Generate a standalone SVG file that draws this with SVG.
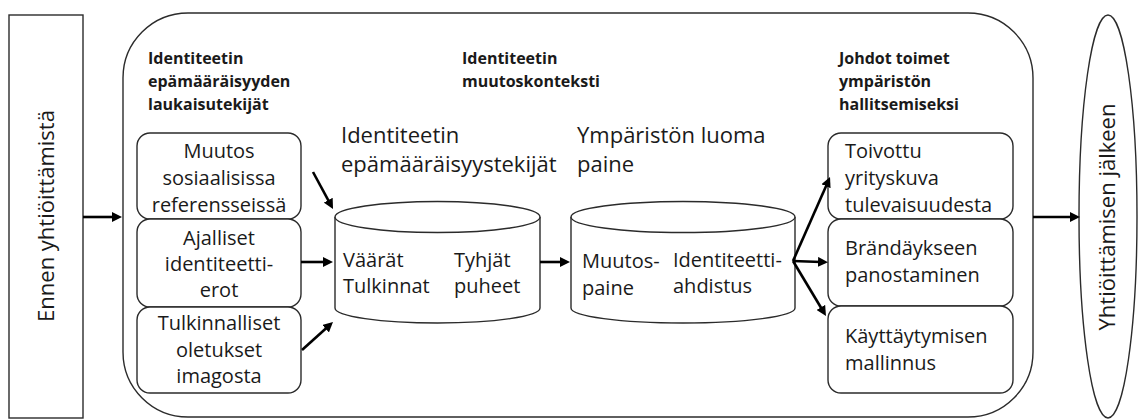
<svg xmlns="http://www.w3.org/2000/svg" width="1139" height="419" viewBox="0 0 1139 419">
  <style>
    .shape { fill: #ffffff; stroke: #2b2b2b; stroke-width: 1.4; }
    .txt { font-family: "Open Sans", "Liberation Sans", sans-serif; font-size: 20px; fill: #1a1a1a; }
    .mid { text-anchor: middle; }
    .title { font-size: 22px; }
    .head { font-size: 16px; font-weight: bold; }
    .arrow { stroke: #000000; stroke-width: 2.6; fill: none; marker-end: url(#head); }
  </style>
  <defs>
    <marker id="head" markerUnits="userSpaceOnUse" markerWidth="10" markerHeight="10" refX="3" refY="5" orient="auto">
      <path d="M0,0 L10,5 L0,10 z" fill="#000000"/>
    </marker>
  </defs>

  <rect width="1139" height="419" fill="#ffffff"/>

  <!-- before merger -->
  <g id="before">
    <rect class="shape" x="9" y="15" width="74" height="403"/>
    <text class="txt title mid" transform="translate(54 216) rotate(-90)">Ennen yhtiöittämistä</text>
  </g>

  <!-- change context frame -->
  <g id="context">
    <rect class="shape" x="123" y="13" width="910" height="404" rx="65" ry="65"/>
    <text class="txt head" x="148" y="64">Identiteetin</text>
    <text class="txt head" x="148" y="87">epämääräisyyden</text>
    <text class="txt head" x="148" y="110">laukaisutekijät</text>
    <text class="txt head" x="462" y="64">Identiteetin</text>
    <text class="txt head" x="462" y="87">muutoskonteksti</text>
    <text class="txt head" x="839" y="64">Johdot toimet</text>
    <text class="txt head" x="839" y="87">ympäristön</text>
    <text class="txt head" x="839" y="110">hallitsemiseksi</text>
  </g>

  <!-- triggers -->
  <g id="trigger-1">
    <rect class="shape" x="137" y="133" width="164" height="86" rx="13"/>
    <text class="txt mid" x="219" y="158">Muutos</text>
    <text class="txt mid" x="219" y="185">sosiaalisissa</text>
    <text class="txt mid" x="219" y="212">referensseissä</text>
  </g>
  <g id="trigger-2">
    <rect class="shape" x="137" y="219" width="164" height="88" rx="13"/>
    <text class="txt mid" x="219" y="245">Ajalliset</text>
    <text class="txt mid" x="219" y="271">identiteetti-</text>
    <text class="txt mid" x="219" y="297">erot</text>
  </g>
  <g id="trigger-3">
    <rect class="shape" x="137" y="307" width="164" height="86" rx="13"/>
    <text class="txt mid" x="219" y="330">Tulkinnalliset</text>
    <text class="txt mid" x="219" y="357">oletukset</text>
    <text class="txt mid" x="219" y="383">imagosta</text>
  </g>

  <!-- ambiguity factors -->
  <g id="ambiguity">
    <text class="txt title" x="341" y="143">Identiteetin</text>
    <text class="txt title" x="341" y="172">epämääräisyystekijät</text>
    <path class="shape" d="M335,217 L335,308 A102.5,15 0 0 0 540,308 L540,217"/>
    <ellipse class="shape" cx="437.5" cy="217" rx="102.5" ry="15.5"/>
    <text class="txt" x="343" y="267">Väärät</text>
    <text class="txt" x="343" y="293">Tulkinnat</text>
    <text class="txt" x="454" y="267">Tyhjät</text>
    <text class="txt" x="454" y="293">puheet</text>
  </g>

  <!-- environmental pressure -->
  <g id="pressure">
    <text class="txt title" x="577" y="143">Ympäristön luoma</text>
    <text class="txt title" x="577" y="172">paine</text>
    <path class="shape" d="M571,217 L571,308 A112,15 0 0 0 795,308 L795,217"/>
    <ellipse class="shape" cx="683" cy="217" rx="112" ry="15.5"/>
    <text class="txt" x="582" y="268">Muutos-</text>
    <text class="txt" x="582" y="295">paine</text>
    <text class="txt" x="673" y="267">Identiteetti-</text>
    <text class="txt" x="673" y="293">ahdistus</text>
  </g>

  <!-- management actions -->
  <g id="action-1">
    <rect class="shape" x="828" y="133" width="185" height="86" rx="13"/>
    <text class="txt" x="845" y="158">Toivottu</text>
    <text class="txt" x="845" y="185">yrityskuva</text>
    <text class="txt" x="845" y="212">tulevaisuudesta</text>
  </g>
  <g id="action-2">
    <rect class="shape" x="828" y="219" width="185" height="87" rx="13"/>
    <text class="txt" x="845" y="255">Brändäykseen</text>
    <text class="txt" x="845" y="282">panostaminen</text>
  </g>
  <g id="action-3">
    <rect class="shape" x="828" y="306" width="185" height="87" rx="13"/>
    <text class="txt" x="845" y="343">Käyttäytymisen</text>
    <text class="txt" x="845" y="370">mallinnus</text>
  </g>

  <!-- after merger -->
  <g id="after">
    <ellipse class="shape" cx="1108" cy="216.5" rx="29" ry="201.5"/>
    <text class="txt title mid" transform="translate(1115 217) rotate(-90)">Yhtiöittämisen jälkeen</text>
  </g>

  <!-- connectors -->
  <g id="connectors">
    <line class="arrow" x1="83" y1="217" x2="115" y2="217"/>
    <line class="arrow" x1="1033" y1="217" x2="1073" y2="217"/>
    <line class="arrow" x1="313" y1="172" x2="329.7" y2="202.8"/>
    <line class="arrow" x1="301" y1="262" x2="326" y2="262"/>
    <line class="arrow" x1="302" y1="350" x2="327.8" y2="326.7"/>
    <line class="arrow" x1="540" y1="262" x2="563" y2="262"/>
    <line class="arrow" x1="793" y1="261" x2="827.2" y2="183.4"/>
    <line class="arrow" x1="793" y1="261" x2="821" y2="262"/>
    <line class="arrow" x1="793" y1="261" x2="822.4" y2="310"/>
  </g>
</svg>
